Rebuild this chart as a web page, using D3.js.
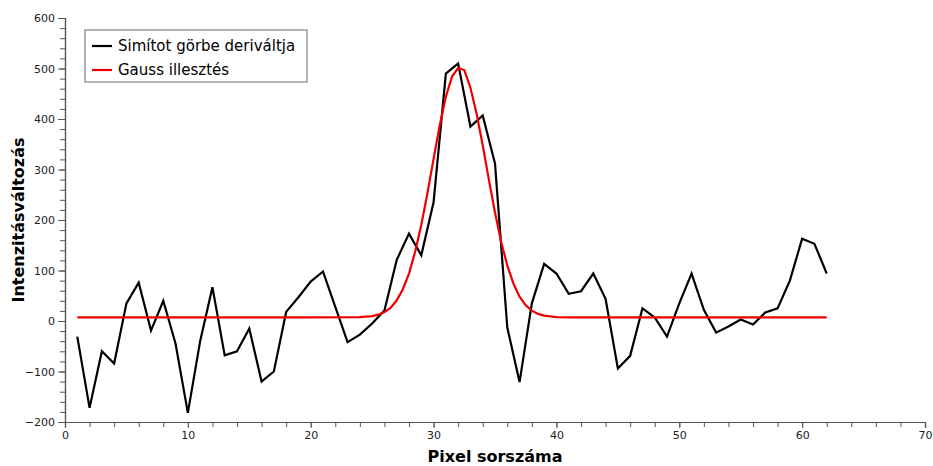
<!DOCTYPE html>
<html>
<head>
<meta charset="utf-8">
<script src="https://cdn.jsdelivr.net/npm/d3@7"></script>
<style>
  body { margin: 0; background: #fff; }
  svg { display: block; }
</style>
</head>
<body>
<div id="chart"></div>
<script>
// pixel index of the smoothed curve derivative
const derivX = d3.range(1, 63);
const derivY = [-31, -172, -60, -84, 35, 76, -19, 40, -45, -182,
  -40, 67, -68, -60, -15, -120, -100, 18, 47, 78,
  98, 28, -42, -27, -5, 21, 121, 173, 130, 235,
  490, 510, 385, 407, 312, -13, -121, 35, 113, 94,
  54, 59, 94, 44, -94, -69, 25, 7, -31, 35,
  94, 22, -23, -11, 3, -7, 17, 25, 80, 163,
  153, 94];

// gauss fit
const gaussX = [1, 10, 20, 24, 25, 25.5, 26, 26.5, 27, 27.5, 28, 28.5, 29, 29.5, 30, 30.5,
  31, 31.5, 32, 32.5, 33, 33.5, 34, 34.5, 35, 35.5, 36, 36.5, 37, 37.5,
  38, 38.5, 39, 40, 41, 50, 62];
const gaussY = [7, 7, 7, 7.6, 9.7, 12.5, 17.6, 26, 41, 63, 94, 137, 190, 253, 321, 387,
  444, 484, 501, 497, 462, 411, 348, 280, 215, 157, 110, 74, 48, 31,
  20.5, 14, 10.6, 7.8, 7, 7, 7];

const seriesNames = ["Simítot görbe deriváltja", "Gauss illesztés"];
const seriesColors = ["#000000", "#ee0000"];

const xTicks = [0, 10, 20, 30, 40, 50, 60, 70];
const yTicks = [-200, -100, 0, 100, 200, 300, 400, 500, 600];

const width = 933;
const height = 466;
const margin = {left: 65, right: 8, top: 18, bottom: 44};

const svg = d3.select("#chart")
  .append("svg")
  .attr("width", width)
  .attr("height", height);

const xScale = d3.scaleLinear()
  .domain([0, 70])
  .range([margin.left, width - margin.right]);
const yScale = d3.scaleLinear()
  .domain([-200, 600])
  .range([height - margin.bottom, margin.top]);

// minor ticks first, then major with labels
const axisColor = "#555";
const xMinor = svg.append("g")
  .attr("transform", "translate(0," + (height - margin.bottom) + ")")
  .call(d3.axisBottom(xScale).tickValues(d3.range(0, 71, 2)).tickSize(5).tickFormat(""));
const xAxis = svg.append("g")
  .attr("transform", "translate(0," + (height - margin.bottom) + ")")
  .call(d3.axisBottom(xScale).tickValues(xTicks).tickSize(6).tickPadding(3));
const yMinor = svg.append("g")
  .attr("transform", "translate(" + margin.left + ",0)")
  .call(d3.axisLeft(yScale).tickValues(d3.range(-200, 601, 20)).tickSize(5).tickFormat(""));
const yAxis = svg.append("g")
  .attr("transform", "translate(" + margin.left + ",0)")
  .call(d3.axisLeft(yScale).tickValues(yTicks).tickSize(7).tickPadding(3));

[xMinor, xAxis, yMinor, yAxis].forEach(g => {
  g.selectAll("path").attr("stroke", axisColor).attr("stroke-width", 1.2);
  g.selectAll("line").attr("stroke", axisColor);
  g.selectAll("text")
    .attr("fill", "#222")
    .style("font-family", "DejaVu Sans")
    .style("font-size", "11px");
});

// lines
const lineGen = d3.line()
  .x(d => xScale(d[0]))
  .y(d => yScale(d[1]));

svg.append("path")
  .datum(derivX.map((x, i) => [x, derivY[i]]))
  .attr("fill", "none")
  .attr("stroke", seriesColors[0])
  .attr("stroke-width", 2.2)
  .attr("stroke-linejoin", "miter")
  .attr("d", lineGen);

svg.append("path")
  .datum(gaussX.map((x, i) => [x, gaussY[i]]))
  .attr("fill", "none")
  .attr("stroke", seriesColors[1])
  .attr("stroke-width", 2.2)
  .attr("d", lineGen);

// axis titles
svg.append("text")
  .attr("x", (margin.left + width - margin.right) / 2)
  .attr("y", height - 4)
  .attr("text-anchor", "middle")
  .style("font-family", "DejaVu Sans")
  .style("font-weight", "bold")
  .style("font-size", "16px")
  .text("Pixel sorszáma");

svg.append("text")
  .attr("transform", "translate(24," + ((margin.top + height - margin.bottom) / 2) + ") rotate(-90)")
  .attr("text-anchor", "middle")
  .style("font-family", "DejaVu Sans")
  .style("font-weight", "bold")
  .style("font-size", "16px")
  .text("Intenzitásváltozás");

// legend
const legend = svg.append("g").attr("transform", "translate(85,30)");
legend.append("rect")
  .attr("width", 222)
  .attr("height", 52)
  .attr("fill", "#fff")
  .attr("stroke", "#666")
  .attr("stroke-width", 1);
seriesNames.forEach((name, i) => {
  const y = 16 + i * 24;
  legend.append("line")
    .attr("x1", 7).attr("x2", 27)
    .attr("y1", y).attr("y2", y)
    .attr("stroke", seriesColors[i])
    .attr("stroke-width", 2.2);
  legend.append("text")
    .attr("x", 33)
    .attr("y", y + 5)
    .style("font-family", "DejaVu Sans")
    .style("font-size", "15px")
    .text(name);
});
</script>
</body>
</html>
